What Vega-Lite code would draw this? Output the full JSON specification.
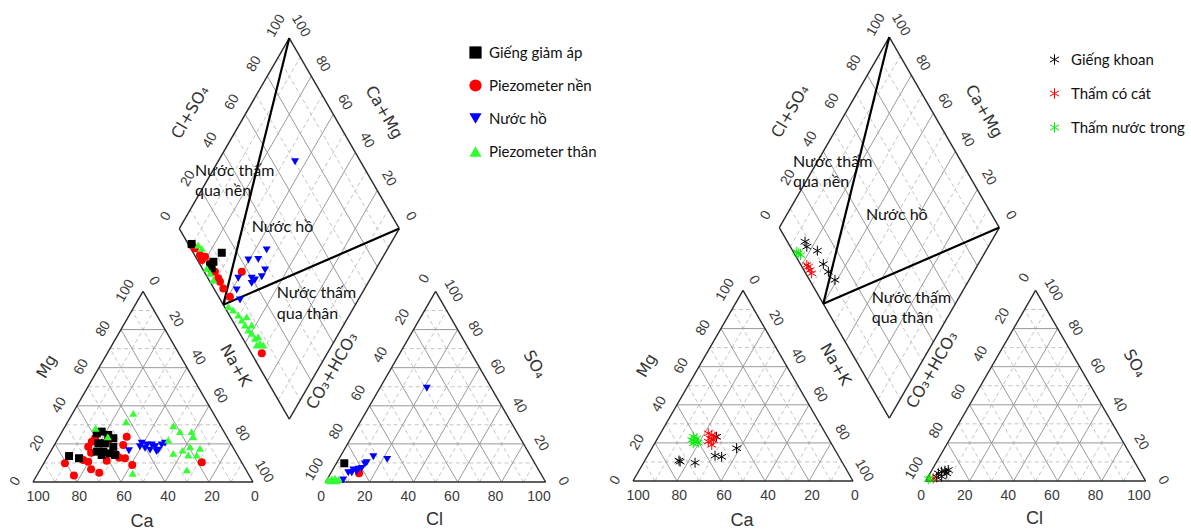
{
"$schema": "https://vega.github.io/schema/vega-lite/v6.json",
"padding": 0,
"spacing": 0,
"bounds": "flush",
"resolve": {"scale": {"color": "independent", "shape": "independent", "x": "independent", "y": "independent"}, "legend": {"color": "independent", "shape": "independent"}},
"config": {"view": {"stroke": null}, "font": "Liberation Sans"},
"datasets": {
"gridMajor": [
{"x":10,"y":17.321,"x2":90,"y2":17.321},{"x":20,"y":34.641,"x2":80,"y2":34.641},{"x":30,"y":51.962,"x2":70,"y2":51.962},{"x":40,"y":69.282,"x2":60,"y2":69.282},
{"x":20,"y":0,"x2":60,"y2":69.282},{"x":40,"y":0,"x2":70,"y2":51.962},{"x":60,"y":0,"x2":80,"y2":34.641},{"x":80,"y":0,"x2":90,"y2":17.321},
{"x":20,"y":0,"x2":10,"y2":17.321},{"x":40,"y":0,"x2":20,"y2":34.641},{"x":60,"y":0,"x2":30,"y2":51.962},{"x":80,"y":0,"x2":40,"y2":69.282},
{"x":143,"y":17.321,"x2":223,"y2":17.321},{"x":153,"y":34.641,"x2":213,"y2":34.641},{"x":163,"y":51.962,"x2":203,"y2":51.962},{"x":173,"y":69.282,"x2":193,"y2":69.282},
{"x":153,"y":0,"x2":193,"y2":69.282},{"x":173,"y":0,"x2":203,"y2":51.962},{"x":193,"y":0,"x2":213,"y2":34.641},{"x":213,"y":0,"x2":223,"y2":17.321},
{"x":153,"y":0,"x2":143,"y2":17.321},{"x":173,"y":0,"x2":153,"y2":34.641},{"x":193,"y":0,"x2":163,"y2":51.962},{"x":213,"y":0,"x2":173,"y2":69.282},
{"x":76.5,"y":97.861,"x2":126.5,"y2":184.463},{"x":86.5,"y":80.54,"x2":136.5,"y2":167.143},{"x":96.5,"y":63.22,"x2":146.5,"y2":149.823},{"x":106.5,"y":45.899,"x2":156.5,"y2":132.502},
{"x":76.5,"y":132.502,"x2":126.5,"y2":45.899},{"x":86.5,"y":149.823,"x2":136.5,"y2":63.22},{"x":96.5,"y":167.143,"x2":146.5,"y2":80.54},{"x":106.5,"y":184.463,"x2":156.5,"y2":97.861}
],
"gridMinor": [
{"x":5,"y":8.66,"x2":95,"y2":8.66},{"x":15,"y":25.981,"x2":85,"y2":25.981},{"x":25,"y":43.301,"x2":75,"y2":43.301},{"x":35,"y":60.622,"x2":65,"y2":60.622},{"x":45,"y":77.942,"x2":55,"y2":77.942},
{"x":10,"y":0,"x2":55,"y2":77.942},{"x":30,"y":0,"x2":65,"y2":60.622},{"x":50,"y":0,"x2":75,"y2":43.301},{"x":70,"y":0,"x2":85,"y2":25.981},{"x":90,"y":0,"x2":95,"y2":8.66},
{"x":10,"y":0,"x2":5,"y2":8.66},{"x":30,"y":0,"x2":15,"y2":25.981},{"x":50,"y":0,"x2":25,"y2":43.301},{"x":70,"y":0,"x2":35,"y2":60.622},{"x":90,"y":0,"x2":45,"y2":77.942},
{"x":138,"y":8.66,"x2":228,"y2":8.66},{"x":148,"y":25.981,"x2":218,"y2":25.981},{"x":158,"y":43.301,"x2":208,"y2":43.301},{"x":168,"y":60.622,"x2":198,"y2":60.622},{"x":178,"y":77.942,"x2":188,"y2":77.942},
{"x":143,"y":0,"x2":188,"y2":77.942},{"x":163,"y":0,"x2":198,"y2":60.622},{"x":183,"y":0,"x2":208,"y2":43.301},{"x":203,"y":0,"x2":218,"y2":25.981},{"x":223,"y":0,"x2":228,"y2":8.66},
{"x":143,"y":0,"x2":138,"y2":8.66},{"x":163,"y":0,"x2":148,"y2":25.981},{"x":183,"y":0,"x2":158,"y2":43.301},{"x":203,"y":0,"x2":168,"y2":60.622},{"x":223,"y":0,"x2":178,"y2":77.942},
{"x":71.5,"y":106.521,"x2":121.5,"y2":193.124},{"x":81.5,"y":89.201,"x2":131.5,"y2":175.803},{"x":91.5,"y":71.88,"x2":141.5,"y2":158.483},{"x":101.5,"y":54.56,"x2":151.5,"y2":141.162},{"x":111.5,"y":37.239,"x2":161.5,"y2":123.842},
{"x":71.5,"y":123.842,"x2":121.5,"y2":37.239},{"x":81.5,"y":141.162,"x2":131.5,"y2":54.56},{"x":91.5,"y":158.483,"x2":141.5,"y2":71.88},{"x":101.5,"y":175.803,"x2":151.5,"y2":89.201},{"x":111.5,"y":193.124,"x2":161.5,"y2":106.521}
],
"frame": [
{"x":0,"y":0,"x2":100,"y2":0},{"x":100,"y":0,"x2":50,"y2":86.603},{"x":50,"y":86.603,"x2":0,"y2":0},
{"x":133,"y":0,"x2":233,"y2":0},{"x":233,"y":0,"x2":183,"y2":86.603},{"x":183,"y":86.603,"x2":133,"y2":0},
{"x":116.5,"y":28.579,"x2":66.5,"y2":115.181},{"x":66.5,"y":115.181,"x2":116.5,"y2":201.784},{"x":116.5,"y":201.784,"x2":166.5,"y2":115.181},{"x":166.5,"y":115.181,"x2":116.5,"y2":28.579}
],
"divider": [
{"x":116.5,"y":201.784,"x2":86.5,"y2":80.54},{"x":86.5,"y":80.54,"x2":166.5,"y2":115.181}
],
"tickH": [
{"x":2.3,"y":-6.6,"t":"100"},{"x":21,"y":-6.6,"t":"80"},{"x":41.4,"y":-6.6,"t":"60"},{"x":61.4,"y":-6.6,"t":"40"},{"x":81.4,"y":-6.6,"t":"20"},{"x":100.9,"y":-6.6,"t":"0"},
{"x":131,"y":-6.6,"t":"0"},{"x":150.8,"y":-6.6,"t":"20"},{"x":170.6,"y":-6.6,"t":"40"},{"x":190.4,"y":-6.6,"t":"60"},{"x":210.2,"y":-6.6,"t":"80"},{"x":230,"y":-6.6,"t":"100"}
],
"tickUp": [
{"x":-8,"y":0.3,"t":"0"},{"x":2,"y":17.6,"t":"20"},{"x":12,"y":34.9,"t":"40"},{"x":22,"y":52.3,"t":"60"},{"x":32,"y":69.6,"t":"80"},{"x":42,"y":86.9,"t":"100"},
{"x":128,"y":5.7,"t":"100"},{"x":138,"y":23,"t":"80"},{"x":148,"y":40.3,"t":"60"},{"x":158,"y":57.7,"t":"40"},{"x":168,"y":75,"t":"20"},{"x":178,"y":92.3,"t":"0"},
{"x":60.5,"y":120.7,"t":"0"},{"x":70.5,"y":138,"t":"20"},{"x":80.5,"y":155.3,"t":"40"},{"x":90.5,"y":172.6,"t":"60"},{"x":100.5,"y":190,"t":"80"},{"x":110.5,"y":207.3,"t":"100"}
],
"tickDown": [
{"x":55,"y":91.3,"t":"0"},{"x":65,"y":74,"t":"20"},{"x":75,"y":56.7,"t":"40"},{"x":85,"y":39.3,"t":"60"},{"x":95,"y":22,"t":"80"},{"x":105,"y":4.7,"t":"100"},
{"x":241,"y":0.3,"t":"0"},{"x":231,"y":17.6,"t":"20"},{"x":221,"y":34.9,"t":"40"},{"x":211,"y":52.3,"t":"60"},{"x":201,"y":69.6,"t":"80"},{"x":191,"y":86.9,"t":"100"},
{"x":171.7,"y":120.7,"t":"0"},{"x":161.7,"y":138,"t":"20"},{"x":151.7,"y":155.3,"t":"40"},{"x":141.7,"y":172.6,"t":"60"},{"x":131.7,"y":190,"t":"80"},{"x":121.7,"y":207.3,"t":"100"}
],
"titleH": [{"x":49.5,"y":-18,"t":"Ca"},{"x":182.5,"y":-17.2,"t":"Cl"}],
"titleUp": [{"x":6.3,"y":52.5,"t":"Mg"},{"x":136,"y":50.5,"t":"CO₃+HCO₃"},{"x":71.5,"y":168,"t":"Cl+SO₄"}],
"titleDown": [{"x":92,"y":53,"t":"Na+K"},{"x":228,"y":53.5,"t":"SO₄"},{"x":159.5,"y":168,"t":"Ca+Mg"}],
"regionL": [
{"x":73.6,"y":141.4,"t":"Nước thấm"},{"x":73.6,"y":132.3,"t":"qua nền"},{"x":99.4,"y":116.1,"t":"Nước hồ"},{"x":110.8,"y":85.8,"t":"Nước thấm"},{"x":110.8,"y":76.4,"t":"qua thân"}
],
"regionR": [
{"x":72.7,"y":145.1,"t":"Nước thấm"},{"x":72.7,"y":135.9,"t":"qua nền"},{"x":105.9,"y":120.9,"t":"Nước hồ"},{"x":108.5,"y":83,"t":"Nước thấm"},{"x":108.5,"y":74,"t":"qua thân"}
],
"pointsL": [
{"g":"Piezometer nền","x":14.5,"y":8.5},{"g":"Piezometer nền","x":18.6,"y":2.9},{"g":"Piezometer nền","x":22.9,"y":10},{"g":"Piezometer nền","x":25.1,"y":9.2},{"g":"Piezometer nền","x":26.4,"y":5.8},{"g":"Piezometer nền","x":30.1,"y":4.2},{"g":"Piezometer nền","x":33.5,"y":9.7},{"g":"Piezometer nền","x":38,"y":12.3},{"g":"Piezometer nền","x":39.2,"y":11},{"g":"Piezometer nền","x":41.8,"y":10.8},{"g":"Piezometer nền","x":45.1,"y":7.7},{"g":"Piezometer nền","x":42.6,"y":20.6},{"g":"Piezometer nền","x":41,"y":16.8},{"g":"Piezometer nền","x":25.1,"y":16},{"g":"Piezometer nền","x":26.7,"y":18.3},{"g":"Piezometer nền","x":28.2,"y":19.9},{"g":"Piezometer nền","x":26.4,"y":13.3},{"g":"Piezometer nền","x":76.7,"y":9},{"g":"Piezometer nền","x":34.2,"y":19.1},
{"g":"Piezometer nền","x":148.2,"y":4},
{"g":"Piezometer nền","x":72.1,"y":107.7},{"g":"Piezometer nền","x":73.6,"y":106.2},{"g":"Piezometer nền","x":75.9,"y":103.2},{"g":"Piezometer nền","x":76.7,"y":100.9},{"g":"Piezometer nền","x":78.2,"y":102.4},{"g":"Piezometer nền","x":80.5,"y":99.4},{"g":"Piezometer nền","x":82.7,"y":95.6},{"g":"Piezometer nền","x":84.2,"y":92.6},{"g":"Piezometer nền","x":85,"y":91},{"g":"Piezometer nền","x":86.5,"y":88},{"g":"Piezometer nền","x":89.5,"y":84.2},{"g":"Piezometer nền","x":94.9,"y":95.6},{"g":"Piezometer nền","x":104,"y":58.5},
{"g":"Giếng giảm áp","x":16.4,"y":11.8},{"g":"Giếng giảm áp","x":20.9,"y":10.8},{"g":"Giếng giảm áp","x":29,"y":22.1},{"g":"Giếng giảm áp","x":31.2,"y":22.9},{"g":"Giếng giảm áp","x":34.2,"y":21.4},{"g":"Giếng giảm áp","x":36.5,"y":19.9},{"g":"Giếng giảm áp","x":29.7,"y":17.6},{"g":"Giếng giảm áp","x":32.7,"y":17.6},{"g":"Giếng giảm áp","x":36.5,"y":16},{"g":"Giếng giảm áp","x":29,"y":13.8},{"g":"Giếng giảm áp","x":32,"y":13.8},{"g":"Giếng giảm áp","x":35,"y":13},{"g":"Giếng giảm áp","x":37.3,"y":12.3},{"g":"Giếng giảm áp","x":31.2,"y":12.3},
{"g":"Giếng giảm áp","x":141.5,"y":8.5},
{"g":"Giếng giảm áp","x":72.1,"y":108.2},{"g":"Giếng giảm áp","x":85.8,"y":104.2},{"g":"Giếng giảm áp","x":80.5,"y":98.6},{"g":"Giếng giảm áp","x":81.2,"y":97.1},{"g":"Giếng giảm áp","x":82,"y":100.1},
{"g":"Nước hồ","x":43.6,"y":14.2},{"g":"Nước hồ","x":49.4,"y":17.6},{"g":"Nước hồ","x":51.7,"y":16.8},{"g":"Nước hồ","x":53.2,"y":14.5},{"g":"Nước hồ","x":55.5,"y":16},{"g":"Nước hồ","x":57,"y":14.5},{"g":"Nước hồ","x":58.5,"y":16.8},{"g":"Nước hồ","x":60,"y":17.6},{"g":"Nước hồ","x":54,"y":16.8},{"g":"Nước hồ","x":50.9,"y":15.3},{"g":"Nước hồ","x":56.2,"y":13.8},{"g":"Nước hồ","x":48.6,"y":16},
{"g":"Nước hồ","x":141,"y":0.9},{"g":"Nước hồ","x":143.3,"y":4.2},{"g":"Nước hồ","x":145.6,"y":5.5},{"g":"Nước hồ","x":147.9,"y":5.8},{"g":"Nước hồ","x":149.4,"y":6.2},{"g":"Nước hồ","x":150.9,"y":8.2},{"g":"Nước hồ","x":151.7,"y":8.8},{"g":"Nước hồ","x":154.7,"y":11.5},{"g":"Nước hồ","x":161,"y":10.3},{"g":"Nước hồ","x":179,"y":42.6},{"g":"Nước hồ","x":144.9,"y":4.2},{"g":"Nước hồ","x":147.1,"y":4.7},
{"g":"Nước hồ","x":106.2,"y":105.5},{"g":"Nước hồ","x":97.9,"y":100.9},{"g":"Nước hồ","x":102.4,"y":101.2},{"g":"Nước hồ","x":105.5,"y":96.4},{"g":"Nước hồ","x":93.3,"y":92.6},{"g":"Nước hồ","x":99.4,"y":92.6},{"g":"Nước hồ","x":104,"y":93.3},{"g":"Nước hồ","x":99.4,"y":90.3},{"g":"Nước hồ","x":92.6,"y":87.3},{"g":"Nước hồ","x":94.1,"y":82.7},{"g":"Nước hồ","x":100.9,"y":91.8},{"g":"Nước hồ","x":119.1,"y":145.6},
{"g":"Piezometer thân","x":28.5,"y":24.4},{"g":"Piezometer thân","x":34,"y":20.6},{"g":"Piezometer thân","x":45.6,"y":31.2},{"g":"Piezometer thân","x":42.3,"y":27.4},{"g":"Piezometer thân","x":45.3,"y":4},{"g":"Piezometer thân","x":63.8,"y":25.6},{"g":"Piezometer thân","x":66.8,"y":22.9},{"g":"Piezometer thân","x":72.1,"y":22.9},{"g":"Piezometer thân","x":61.5,"y":19.1},{"g":"Piezometer thân","x":63.8,"y":13},{"g":"Piezometer thân","x":68,"y":14.5},{"g":"Piezometer thân","x":72.9,"y":20.6},{"g":"Piezometer thân","x":71.4,"y":16},{"g":"Piezometer thân","x":70.6,"y":12.3},{"g":"Piezometer thân","x":74.4,"y":12.3},{"g":"Piezometer thân","x":75.9,"y":15.3},{"g":"Piezometer thân","x":69.9,"y":5.5},
{"g":"Piezometer thân","x":134.2,"y":0.9},{"g":"Piezometer thân","x":135.8,"y":1.4},{"g":"Piezometer thân","x":137.3,"y":1.7},{"g":"Piezometer thân","x":138.8,"y":1.2},{"g":"Piezometer thân","x":135,"y":0.5},{"g":"Piezometer thân","x":138,"y":0.5},
{"g":"Piezometer thân","x":75.1,"y":107.7},{"g":"Piezometer thân","x":76.7,"y":106.2},{"g":"Piezometer thân","x":79,"y":97.1},{"g":"Piezometer thân","x":80.5,"y":94.9},{"g":"Piezometer thân","x":82,"y":91.8},{"g":"Piezometer thân","x":88.8,"y":79.7},{"g":"Piezometer thân","x":91,"y":78.2},{"g":"Piezometer thân","x":93.3,"y":75.9},{"g":"Piezometer thân","x":94.9,"y":73.6},{"g":"Piezometer thân","x":96.4,"y":71.4},{"g":"Piezometer thân","x":97.9,"y":69.1},{"g":"Piezometer thân","x":99.4,"y":67.6},{"g":"Piezometer thân","x":100.9,"y":65.3},{"g":"Piezometer thân","x":102.4,"y":66},{"g":"Piezometer thân","x":103.2,"y":63},{"g":"Piezometer thân","x":99.4,"y":71.4},{"g":"Piezometer thân","x":97.1,"y":75.1},{"g":"Piezometer thân","x":101.7,"y":62.3},{"g":"Piezometer thân","x":104.7,"y":62.3}
],
"pointsR": [
{"g":"Giếng khoan","x":38,"y":20.1},{"g":"Giếng khoan","x":21.4,"y":8.8},{"g":"Giếng khoan","x":20.9,"y":9.3},{"g":"Giếng khoan","x":28.2,"y":8.3},{"g":"Giếng khoan","x":37.3,"y":11.5},{"g":"Giếng khoan","x":40.3,"y":11},{"g":"Giếng khoan","x":47.1,"y":14.9},
{"g":"Giếng khoan","x":138.8,"y":3.5},{"g":"Giếng khoan","x":140.3,"y":4.2},{"g":"Giếng khoan","x":141.8,"y":4.7},{"g":"Giếng khoan","x":142.6,"y":3.5},{"g":"Giếng khoan","x":140.3,"y":2},{"g":"Giếng khoan","x":138,"y":1.7},{"g":"Giếng khoan","x":143.3,"y":5},
{"g":"Giếng khoan","x":78.2,"y":108.8},{"g":"Giếng khoan","x":79,"y":106.5},{"g":"Giếng khoan","x":83.8,"y":104.7},{"g":"Giếng khoan","x":86.5,"y":98.6},{"g":"Giếng khoan","x":88.8,"y":95.1},{"g":"Giếng khoan","x":91.8,"y":91.4},
{"g":"Thấm có cát","x":34.2,"y":21.7},{"g":"Thấm có cát","x":35.8,"y":20.9},{"g":"Thấm có cát","x":35,"y":19.4},{"g":"Thấm có cát","x":36.5,"y":18.6},{"g":"Thấm có cát","x":35.8,"y":16.4},{"g":"Thấm có cát","x":37.3,"y":20.1},{"g":"Thấm có cát","x":34.2,"y":17.9},
{"g":"Thấm có cát","x":136.5,"y":1.2},
{"g":"Thấm có cát","x":79.7,"y":97.4},{"g":"Thấm có cát","x":80.5,"y":95.9},{"g":"Thấm có cát","x":81.2,"y":94.4},{"g":"Thấm có cát","x":79,"y":98.2},
{"g":"Thấm nước trong","x":27.4,"y":20.1},{"g":"Thấm nước trong","x":29,"y":19.4},{"g":"Thấm nước trong","x":28.2,"y":17.9},{"g":"Thấm nước trong","x":26.7,"y":18.6},{"g":"Thấm nước trong","x":29.7,"y":17.4},{"g":"Thấm nước trong","x":27.4,"y":17.1},
{"g":"Thấm nước trong","x":135,"y":1.2},{"g":"Thấm nước trong","x":134.2,"y":0.8},
{"g":"Thấm nước trong","x":75.1,"y":103.5},{"g":"Thấm nước trong","x":76.2,"y":102.7},{"g":"Thấm nước trong","x":74.4,"y":104.2}
]
},
"hconcat": [
{
"width": 596, "height": 529,
"encoding": {
"x": {"field":"x","type":"quantitative","scale":{"domain":[-15,255.909],"nice":false,"zero":false},"axis":null},
"y": {"field":"y","type":"quantitative","scale":{"domain":[-21.364,219.091],"nice":false,"zero":false},"axis":null}
},
"layer": [
{"data":{"name":"gridMinor"},"mark":{"type":"rule","color":"#c4c4c4","strokeWidth":1,"strokeDash":[4,3]},"encoding":{"x2":{"field":"x2"},"y2":{"field":"y2"}}},
{"data":{"name":"gridMajor"},"mark":{"type":"rule","color":"#9a9a9a","strokeWidth":1},"encoding":{"x2":{"field":"x2"},"y2":{"field":"y2"}}},
{"data":{"name":"frame"},"mark":{"type":"rule","color":"#2a2a2a","strokeWidth":1.4},"encoding":{"x2":{"field":"x2"},"y2":{"field":"y2"}}},
{"data":{"name":"divider"},"mark":{"type":"rule","color":"#000000","strokeWidth":2.2},"encoding":{"x2":{"field":"x2"},"y2":{"field":"y2"}}},
{"data":{"name":"tickH"},"mark":{"type":"text","fontSize":14,"color":"#3a3a3a","align":"center","baseline":"middle"},"encoding":{"text":{"field":"t","type":"nominal"}}},
{"data":{"name":"tickUp"},"mark":{"type":"text","fontSize":14,"color":"#3a3a3a","align":"center","baseline":"middle","angle":300},"encoding":{"text":{"field":"t","type":"nominal"}}},
{"data":{"name":"tickDown"},"mark":{"type":"text","fontSize":14,"color":"#3a3a3a","align":"center","baseline":"middle","angle":60},"encoding":{"text":{"field":"t","type":"nominal"}}},
{"data":{"name":"titleH"},"mark":{"type":"text","fontSize":18,"color":"#333333","align":"center","baseline":"middle"},"encoding":{"text":{"field":"t","type":"nominal"}}},
{"data":{"name":"titleUp"},"mark":{"type":"text","font":"DejaVu Sans","fontSize":16,"color":"#333333","align":"center","baseline":"middle","angle":300},"encoding":{"text":{"field":"t","type":"nominal"}}},
{"data":{"name":"titleDown"},"mark":{"type":"text","font":"DejaVu Sans","fontSize":16,"color":"#333333","align":"center","baseline":"middle","angle":60},"encoding":{"text":{"field":"t","type":"nominal"}}},
{"data":{"name":"regionL"},"mark":{"type":"text","font":"Lato","fontSize":16,"color":"#111111","align":"left","baseline":"middle"},"encoding":{"text":{"field":"t","type":"nominal"}}},
{"data":{"name":"pointsL"},"mark":{"type":"point","filled":true,"size":64,"opacity":1},
"encoding":{
"color":{"field":"g","type":"nominal","scale":{"domain":["Giếng giảm áp","Piezometer nền","Nước hồ","Piezometer thân"],"range":["#000000","#ff0000","#0000ff","#33ff33"]},"legend":{"title":null,"orient":"none","legendX":468,"legendY":45,"symbolSize":150,"labelFont":"Lato","labelFontSize":15,"labelColor":"#111111","rowPadding":17,"labelOffset":6}},
"shape":{"field":"g","type":"nominal","scale":{"domain":["Giếng giảm áp","Piezometer nền","Nước hồ","Piezometer thân"],"range":["square","circle","triangle-down","triangle-up"]},"legend":{"title":null,"orient":"none","legendX":468,"legendY":45,"symbolSize":150,"labelFont":"Lato","labelFontSize":15,"labelColor":"#111111","rowPadding":17,"labelOffset":6}}
}}
]
},
{
"width": 595, "height": 529,
"encoding": {
"x": {"field":"x","type":"quantitative","scale":{"domain":[-16.818,253.636],"nice":false,"zero":false},"axis":null},
"y": {"field":"y","type":"quantitative","scale":{"domain":[-21.818,218.636],"nice":false,"zero":false},"axis":null}
},
"layer": [
{"data":{"name":"gridMinor"},"mark":{"type":"rule","color":"#c4c4c4","strokeWidth":1,"strokeDash":[4,3]},"encoding":{"x2":{"field":"x2"},"y2":{"field":"y2"}}},
{"data":{"name":"gridMajor"},"mark":{"type":"rule","color":"#9a9a9a","strokeWidth":1},"encoding":{"x2":{"field":"x2"},"y2":{"field":"y2"}}},
{"data":{"name":"frame"},"mark":{"type":"rule","color":"#2a2a2a","strokeWidth":1.4},"encoding":{"x2":{"field":"x2"},"y2":{"field":"y2"}}},
{"data":{"name":"divider"},"mark":{"type":"rule","color":"#000000","strokeWidth":2.2},"encoding":{"x2":{"field":"x2"},"y2":{"field":"y2"}}},
{"data":{"name":"tickH"},"mark":{"type":"text","fontSize":14,"color":"#3a3a3a","align":"center","baseline":"middle"},"encoding":{"text":{"field":"t","type":"nominal"}}},
{"data":{"name":"tickUp"},"mark":{"type":"text","fontSize":14,"color":"#3a3a3a","align":"center","baseline":"middle","angle":300},"encoding":{"text":{"field":"t","type":"nominal"}}},
{"data":{"name":"tickDown"},"mark":{"type":"text","fontSize":14,"color":"#3a3a3a","align":"center","baseline":"middle","angle":60},"encoding":{"text":{"field":"t","type":"nominal"}}},
{"data":{"name":"titleH"},"mark":{"type":"text","fontSize":18,"color":"#333333","align":"center","baseline":"middle"},"encoding":{"text":{"field":"t","type":"nominal"}}},
{"data":{"name":"titleUp"},"mark":{"type":"text","font":"DejaVu Sans","fontSize":16,"color":"#333333","align":"center","baseline":"middle","angle":300},"encoding":{"text":{"field":"t","type":"nominal"}}},
{"data":{"name":"titleDown"},"mark":{"type":"text","font":"DejaVu Sans","fontSize":16,"color":"#333333","align":"center","baseline":"middle","angle":60},"encoding":{"text":{"field":"t","type":"nominal"}}},
{"data":{"name":"regionR"},"mark":{"type":"text","font":"Lato","fontSize":16,"color":"#111111","align":"left","baseline":"middle"},"encoding":{"text":{"field":"t","type":"nominal"}}},
{"data":{"name":"pointsR"},"mark":{"type":"point","filled":false,"size":100,"strokeWidth":1,"opacity":1},
"encoding":{
"color":{"field":"g","type":"nominal","scale":{"domain":["Giếng khoan","Thấm có cát","Thấm nước trong"],"range":["#000000","#ff0000","#00ee00"]},"legend":{"title":null,"orient":"none","legendX":451,"legendY":52,"symbolSize":110,"symbolStrokeWidth":1,"labelFont":"Lato","labelFontSize":15,"labelColor":"#111111","rowPadding":18,"labelOffset":9}},
"shape":{"field":"g","type":"nominal","scale":{"domain":["Giếng khoan","Thấm có cát","Thấm nước trong"],"range":["M0,-1L0,1M-0.87,-0.5L0.87,0.5M-0.87,0.5L0.87,-0.5","M0,-1L0,1M-0.87,-0.5L0.87,0.5M-0.87,0.5L0.87,-0.5","M0,-1L0,1M-0.87,-0.5L0.87,0.5M-0.87,0.5L0.87,-0.5"]},"legend":{"title":null,"orient":"none","legendX":451,"legendY":52,"symbolSize":110,"symbolStrokeWidth":1,"labelFont":"Lato","labelFontSize":15,"labelColor":"#111111","rowPadding":18,"labelOffset":9}}
}}
]
}
]
}
